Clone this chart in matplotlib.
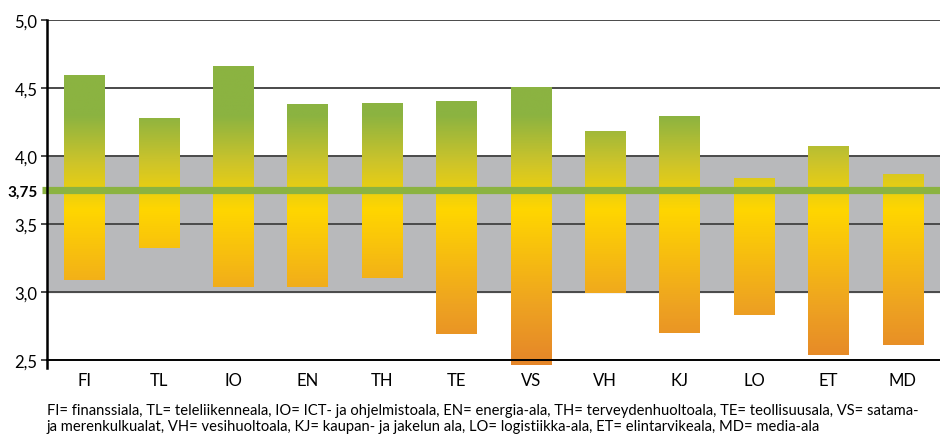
import numpy as np
import matplotlib
matplotlib.use('Agg')
import matplotlib.pyplot as plt
from matplotlib.colors import LinearSegmentedColormap

plt.rcParams['font.family'] = ['Lato', 'DejaVu Sans']

# toimialat ja vaihteluvälit (ala- ja yläraja)
categories = ['FI', 'TL', 'IO', 'EN', 'TH', 'TE', 'VS', 'VH', 'KJ', 'LO', 'ET', 'MD']
low_vals = [3.09, 3.32, 3.04, 3.04, 3.10, 2.69, 2.46, 2.99, 2.70, 2.83, 2.54, 2.61]
high_vals = [4.59, 4.27, 4.66, 4.38, 4.38, 4.40, 4.50, 4.18, 4.29, 3.83, 4.07, 3.86]
ref_value = 3.75
yticks = [2.5, 3.0, 3.5, 4.0, 4.5, 5.0]
ytick_labels = ['2,5', '3,0', '3,5', '4,0', '4,5', '5,0']
footnote = ('FI= finanssiala, TL= teleliikenneala, IO= ICT- ja ohjelmistoala, EN= energia-ala, '
            'TH= terveydenhuoltoala, TE= teollisuusala, VS= satama-\n'
            'ja merenkulkualat, VH= vesihuoltoala, KJ= kaupan- ja jakelun ala, '
            'LO= logistiikka-ala, ET= elintarvikeala, MD= media-ala')

# väriliukuma arvon mukaan: oranssi -> keltainen -> vihreä
vmin, vmax = 2.4, 5.0
def pos(v):
    return (v - vmin) / (vmax - vmin)
cmap = LinearSegmentedColormap.from_list('grad', [
    (0.0, '#E4822A'),
    (pos(2.9), '#EEA321'),
    (pos(3.6), '#FFD600'),
    (pos(3.95), '#CDC42A'),
    (pos(4.3), '#8BB341'),
    (1.0, '#8BB341'),
])

fig = plt.figure(figsize=(9.4, 4.39), dpi=100)
ax = fig.add_axes([0.05, 0.1777, 0.95, 0.7745])

# harmaa alue 3-4
ax.axhspan(3.0, 4.0, color='#B8B9BB', zorder=0)
for y in yticks[1:]:
    ax.axhline(y, color='#4a4a4a', lw=1.4, zorder=1)

width = 0.54
for i, (lo, hi) in enumerate(zip(low_vals, high_vals)):
    x0 = i - width / 2
    grad = np.linspace(lo, hi, 300).reshape(-1, 1)
    ax.imshow(grad, cmap=cmap, vmin=vmin, vmax=vmax, origin='lower',
              extent=[x0, x0 + width, lo, hi], aspect='auto',
              interpolation='bilinear', zorder=2, clip_on=False)

ax.set_xlim(-0.5, len(categories) - 0.5)
ax.set_ylim(2.5, 5.0)

# viiva 3,75
ax.plot([-0.57, len(categories) - 0.5], [ref_value, ref_value], color='#8BB341',
        lw=5.2, solid_capstyle='butt', zorder=4, clip_on=False)

for s in ['top', 'right']:
    ax.spines[s].set_visible(False)
ax.spines['left'].set_linewidth(1.8)
ax.spines['left'].set_bounds(2.44, 5.0)
ax.spines['bottom'].set_linewidth(1.4)
ax.spines['left'].set_zorder(5)
ax.spines['bottom'].set_zorder(5)

ax.set_yticks(yticks + [ref_value])
ax.set_yticklabels(ytick_labels + ['3,75'], fontsize=12)
ax.get_yticklabels()[-1].set_fontweight('bold')
ax.get_yticklabels()[-1].set_fontsize(11)
ax.tick_params(axis='y', length=4, width=1.4, color='#4a4a4a', pad=3)
ax.yaxis.get_major_ticks()[-1].tick1line.set_visible(False)
ax.set_xticks(range(len(categories)))
ax.set_xticklabels(categories, fontsize=12)
ax.tick_params(axis='x', length=0, pad=9)

fig.text(0.05, 0.012, footnote, fontsize=10.6, ha='left', va='bottom', linespacing=1.12)

fig.savefig('out.png', dpi=100)
